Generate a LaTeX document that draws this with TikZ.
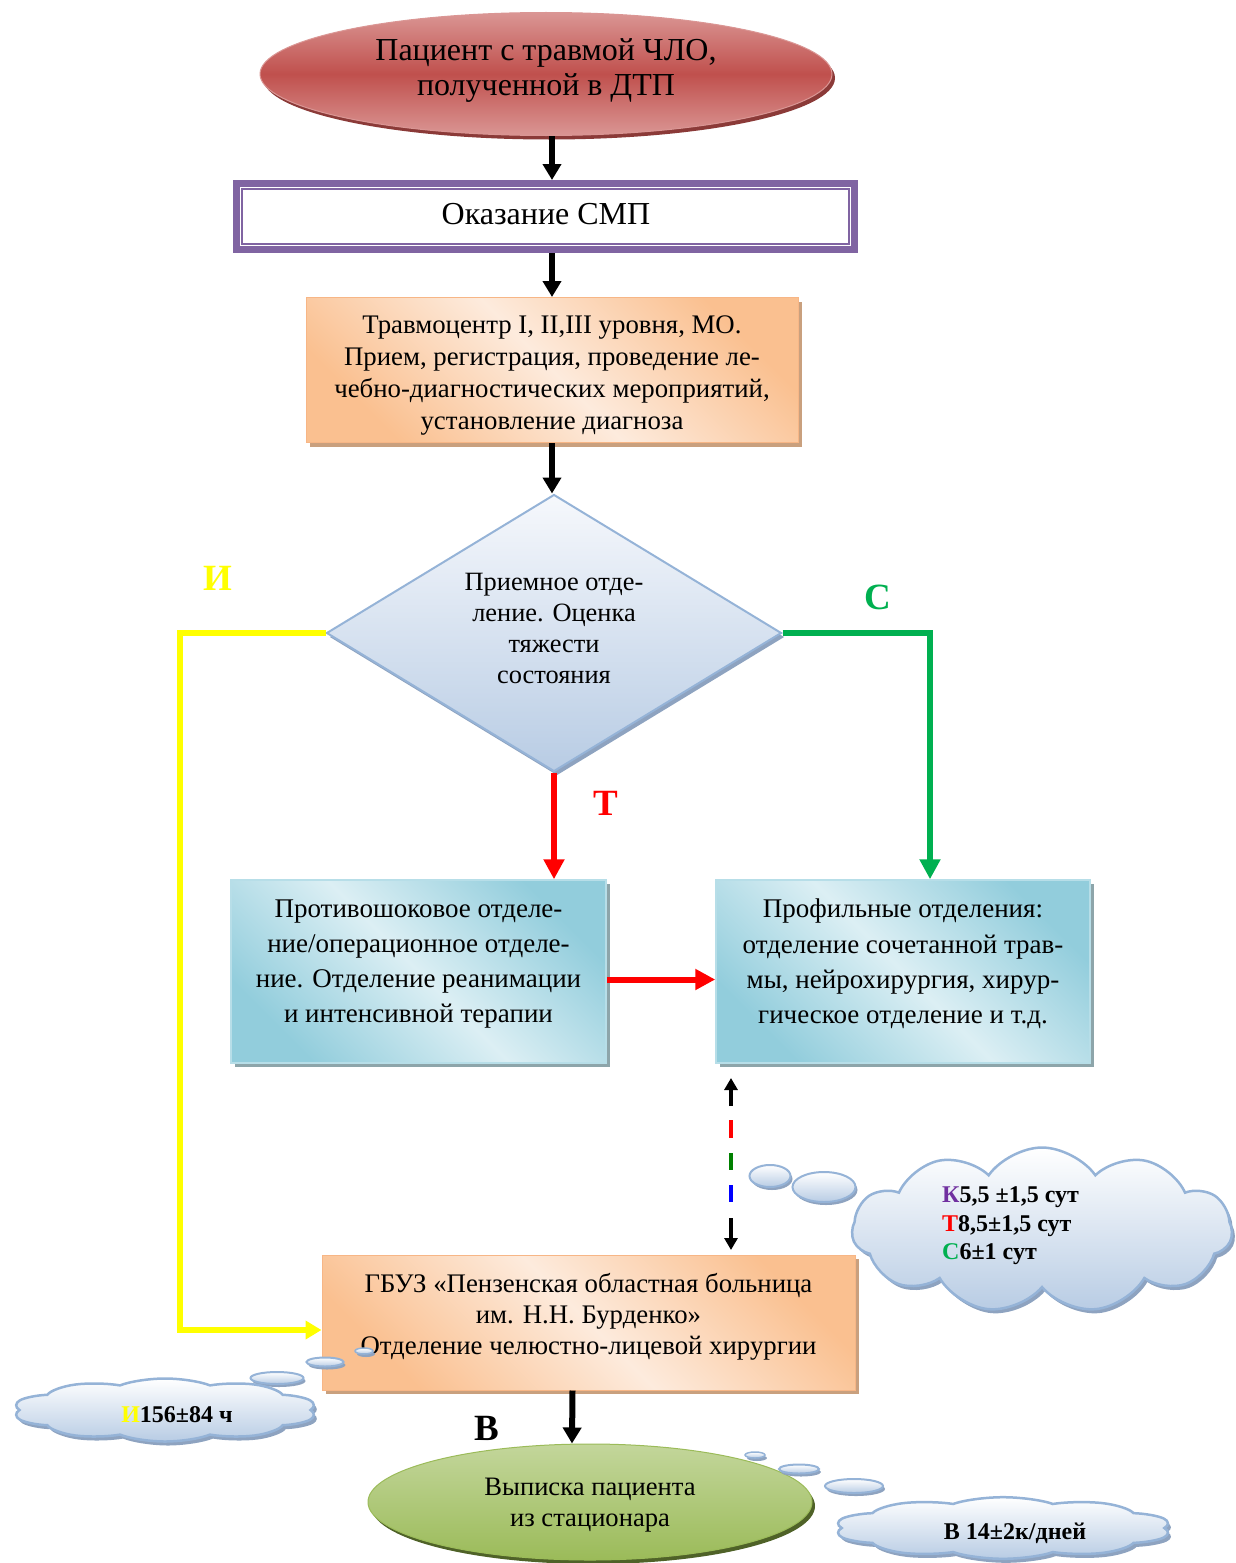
\documentclass[tikz,border=0pt]{standalone}
\usepackage{fontspec}
\setmainfont{Liberation Serif}
\usetikzlibrary{shapes.geometric,shapes.symbols,shadows,arrows.meta,calc}
\definecolor{redM}{HTML}{C0504D}
\definecolor{redL}{HTML}{DA9694}
\definecolor{redS}{HTML}{8B3A38}
\definecolor{purp}{HTML}{8064A2}
\definecolor{orD}{HTML}{FAC090}
\definecolor{orL}{HTML}{FDEBDD}
\definecolor{orB}{HTML}{F7B686}
\definecolor{orS}{HTML}{C9A07E}
\definecolor{diaT}{HTML}{F6F8FC}
\definecolor{diaB}{HTML}{B8CCE4}
\definecolor{diaE}{HTML}{95B3D7}
\definecolor{diaS}{HTML}{8EA3C0}
\definecolor{blD}{HTML}{92CDDC}
\definecolor{blL}{HTML}{DCEFF4}
\definecolor{blB}{HTML}{B7DEE8}
\definecolor{blS}{HTML}{8DA5AA}
\definecolor{grT}{HTML}{C3D69B}
\definecolor{grB}{HTML}{9BBB59}
\definecolor{grS}{HTML}{4F6228}
\definecolor{yel}{HTML}{FFFF00}
\definecolor{grn}{HTML}{00B050}
\definecolor{rd}{HTML}{FF0000}
\definecolor{vio}{HTML}{7030A0}
\begin{document}
\begin{tikzpicture}[x=1pt,y=-1pt,
  tx/.style={align=center, inner sep=0pt},
  oval/.style={ellipse, inner sep=0pt},
  orbox/.style={rectangle, draw=orB, line width=1pt, left color=orD, right color=orD, middle color=orL, shading angle=135,
     drop shadow={shadow xshift=4pt, shadow yshift=-4pt, fill=orS, opacity=1}},
  blbox/.style={rectangle, draw=blB, line width=1.5pt, left color=blD, right color=blD, middle color=blL, shading angle=135,
     drop shadow={shadow xshift=4pt, shadow yshift=-4pt, fill=blS, opacity=1}},
  cloudy/.style={cloud, draw=diaE, line width=2.5pt, top color=white, bottom color=diaB, inner sep=0pt,
     drop shadow={shadow xshift=3pt, shadow yshift=-4pt, fill=diaS, opacity=1}},
  bubble/.style={ellipse, draw=diaE, line width=2pt, top color=white, bottom color=diaB, inner sep=0pt,
     drop shadow={shadow xshift=2pt, shadow yshift=-3pt, fill=diaS, opacity=1}},
  blk/.style={line width=6pt, -{Triangle[width=18pt,length=16pt]}},
  colarrow/.style={line width=6pt, -{Triangle[width=20pt,length=20pt]}},
  lbl/.style={font=\fontsize{37}{37}\selectfont\bfseries, inner sep=0pt},
  ctext/.style={font=\fontsize{24}{28.5}\selectfont\bfseries, inner sep=0pt}
]
\path[use as bounding box] (0,0) rectangle (1235,1563);

% top ellipse
\node[oval, minimum width=572pt, minimum height=123pt, draw=redL, line width=1pt,
  top color=redL, bottom color=redL, middle color=redM,
  drop shadow={shadow xshift=3pt, shadow yshift=-4pt, fill=redS, opacity=1}] (top) at (546,74) {};
\node[tx, font=\fontsize{32}{35}\selectfont] (top-t) at (546,70.5) {Пациент с травмой ЧЛО,\\полученной в ДТП};

% SMP box
\node[rectangle, draw=purp, line width=7pt, fill=white, minimum width=618pt, minimum height=66pt,
  inner sep=0pt] (smp) at (545.5,216.5) {};
\draw[purp, line width=2pt] ([shift={(9,9)}]smp.north west) rectangle ([shift={(-9,-9)}]smp.south east);
\node[tx, font=\fontsize{32}{36}\selectfont] (smp-t) at (546,214) {Оказание СМП};

% trauma center
\node[orbox, minimum width=492pt, minimum height=145pt] (trauma) at (552,370) {};
\node[tx, font=\fontsize{26.8}{32}\selectfont] (trauma-t) at (552,375.5)
  {Травмоцентр I, II,III уровня, МО.\\Прием, регистрация, проведение ле-\\чебно-диагностических мероприятий,\\установление диагноза};

% diamond
\node[diamond, aspect=1.64, minimum width=455pt, minimum height=277pt, draw=diaE, line width=2pt,
  top color=diaT, bottom color=diaB, inner sep=0pt,
  drop shadow={shadow xshift=3pt, shadow yshift=-4pt, fill=diaS, opacity=1}] (dia) at (554,633) {};
\node[tx, font=\fontsize{26.4}{31}\selectfont] (dia-t) at (554,628)
  {Приемное отде-\\ление. Оценка\\тяжести\\состояния};

% blue boxes
\node[blbox, minimum width=375pt, minimum height=183pt] (lbox) at (418.5,971.5) {};
\node[tx, font=\fontsize{27}{35.3}\selectfont] (lbox-t) at (418.5,964)
  {Противошоковое отделе-\\ние/операционное отделе-\\ние. Отделение реанимации\\и интенсивной терапии};
\node[blbox, minimum width=374pt, minimum height=183pt] (rbox) at (903,971.5) {};
\node[tx, font=\fontsize{27}{35.3}\selectfont] (rbox-t) at (903,964)
  {Профильные отделения:\\отделение сочетанной трав-\\мы, нейрохирургия, хирур-\\гическое отделение и т.д.};

% hospital box
\node[orbox, minimum width=533pt, minimum height=135pt] (gbuz) at (588.5,1322.5) {};
\node[tx, font=\fontsize{26.8}{31}\selectfont] (gbuz-t) at (588.5,1316.5)
  {ГБУЗ «Пензенская областная больница\\им. Н.Н. Бурденко»\\Отделение челюстно-лицевой хирургии};

% discharge ellipse
\node[oval, minimum width=444pt, minimum height=116pt, draw=grB, line width=1pt,
  top color=grT, bottom color=grB,
  drop shadow={shadow xshift=3pt, shadow yshift=-4pt, fill=grS, opacity=1}] (outp) at (590,1502) {};
\node[tx, font=\fontsize{26.6}{31}\selectfont] (outp-t) at (590,1505) {Выписка пациента\\из стационара};

% black arrows
\draw[blk] (top.south -| trauma.north) -- (smp.north -| trauma.north);
\draw[blk] (smp.south -| trauma.north) -- (trauma.north);
\draw[blk] (trauma.south) -- (dia.north -| trauma.south);
\draw[blk] ([xshift=-16pt]gbuz.south) -- ([xshift=-18pt]outp.north);

% coloured branches
\coordinate (yc) at (180,0);
\draw[yel, colarrow, -{Triangle[width=18pt,length=16pt]}, line join=miter] (dia.west) -- (dia.west -| yc) |- ([yshift=-7.5pt]gbuz.west);
\draw[grn, colarrow, line join=miter] (dia.east) -| ([xshift=27pt]rbox.north);
\draw[rd, colarrow] (dia.south) -- (dia.south |- lbox.north);
\draw[rd, colarrow] ([yshift=-8pt]lbox.east) -- ([yshift=-8pt]rbox.west);

% labels
\node[lbl, text=yel] (lI) at (218,578) {И};
\node[lbl, text=grn] (lC) at (878,597) {С};
\node[lbl, text=rd] (lT) at (606,803) {Т};
\node[lbl, text=black] (lB) at (487,1428) {В};

% multicolour dashed double arrow
\coordinate (da) at (731,1078);
\coordinate (db) at (731,1250);
\draw[line width=4.5pt, -{Triangle[width=13pt,length=12pt]}] (731,1106) -- (da);
\draw[line width=4.5pt, rd] (731,1120) -- (731,1138);
\draw[line width=4.5pt, green!50!black] (731,1153) -- (731,1170);
\draw[line width=4.5pt, blue] (731,1185) -- (731,1202);
\draw[line width=4.5pt, -{Triangle[width=13pt,length=12pt]}] (731,1218) -- (db);

% clouds and bubbles
\node[bubble, minimum width=41pt, minimum height=22pt] (b1) at (770,1176) {};
\node[bubble, minimum width=63pt, minimum height=30pt] (b2) at (824,1187) {};
\node[cloudy, cloud puffs=11, cloud puff arc=110, aspect=2.3, minimum width=380pt, minimum height=165pt] (c1) at (1042,1230) {};
\node[ctext, anchor=west, align=left] (t1) at (942,1226)
  {\textcolor{vio}{К}5,5 ±1,5 сут\\\textcolor{rd}{Т}8,5±1,5 сут\\\textcolor{grn}{С}6±1 сут};

\node[bubble, minimum width=53pt, minimum height=12pt] (b3) at (277,1378) {};
\node[bubble, minimum width=37pt, minimum height=9pt] (b4) at (325,1362) {};
\node[bubble, minimum width=18pt, minimum height=6pt, line width=1.5pt] (b5) at (364,1351) {};
\begin{scope}[shift={(165,1410)}, xscale=1.525, yscale=0.45]
  \node[cloudy, transform shape, cloud puffs=10, cloud puff arc=110, aspect=1.43, minimum width=200pt, minimum height=140pt] (c2) at (0,0) {};
\end{scope}
\node[ctext] (t2) at (177,1415) {\textcolor{yel}{И}156±84 ч};

\node[bubble, minimum width=20pt, minimum height=6pt, line width=1.5pt] (b6) at (755,1455) {};
\node[bubble, minimum width=40pt, minimum height=9pt] (b7) at (799,1469) {};
\node[bubble, minimum width=58pt, minimum height=14pt] (b8) at (854,1486) {};
\begin{scope}[shift={(1003,1528)}, xscale=1.69, yscale=0.44]
  \node[cloudy, transform shape, cloud puffs=10, cloud puff arc=110, aspect=1.43, minimum width=200pt, minimum height=140pt] (c3) at (0,0) {};
\end{scope}
\node[ctext] (t3) at (1015,1533) {В 14±2к/дней};
\end{tikzpicture}
\end{document}
